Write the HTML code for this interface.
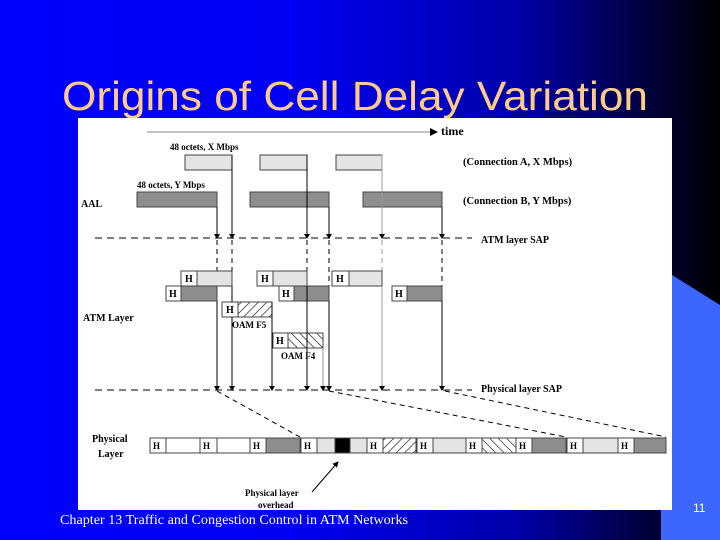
<!DOCTYPE html>
<html><head><meta charset="utf-8"><style>
body{margin:0;width:720px;height:540px;overflow:hidden;background:linear-gradient(90deg,#0000ff 0%,#0000f4 40%,#0000a8 72%,#000000 100%);position:relative;font-family:"Liberation Sans",sans-serif}
svg{position:absolute;left:0;top:0}
</style></head><body>
<svg width="720" height="540">
<defs>
<pattern id="hf" width="6" height="6" patternUnits="userSpaceOnUse" patternTransform="rotate(45)"><rect width="6" height="6" fill="#fff"/><line x1="0" y1="0" x2="0" y2="6" stroke="#000" stroke-width="1.2"/></pattern>
<pattern id="hb" width="6" height="6" patternUnits="userSpaceOnUse" patternTransform="rotate(-45)"><rect width="6" height="6" fill="#fff"/><line x1="0" y1="0" x2="0" y2="6" stroke="#000" stroke-width="1.2"/></pattern>
<marker id="ar" markerWidth="6" markerHeight="6" refX="5" refY="3" orient="auto"><path d="M0,0 L6,3 L0,6z" fill="#000"/></marker>
</defs>
<polygon points="672,275 720,305 720,540 661,540 661,510 672,510" fill="#3d66ff"/>
<text x="62" y="110" font-size="41" fill="#ffcc88" textLength="586" lengthAdjust="spacingAndGlyphs" font-family="Liberation Sans, sans-serif">Origins of Cell Delay Variation</text>
<rect x="78" y="118" width="594" height="392" fill="#fff"/>
<g font-family="Liberation Serif, serif" font-weight="bold" font-size="10" fill="#000">
<line x1="147" y1="132" x2="434" y2="132" stroke="#888" stroke-width="1"/>
<path d="M430,128 L438,132 L430,136z" fill="#000"/>
<text x="441" y="135" font-size="12">time</text>
<text x="170" y="150" font-size="9">48 octets, X Mbps</text>
<text x="137" y="188" font-size="9">48 octets, Y Mbps</text>
<text x="81" y="207" font-size="10">AAL</text>
<text x="463" y="165" font-size="10.5">(Connection A, X Mbps)</text>
<text x="463" y="204" font-size="10.5">(Connection B, Y Mbps)</text>
<g stroke="#444" stroke-width="1">
<rect x="185" y="155" width="47" height="15" fill="#e4e4e4"/>
<rect x="260" y="155" width="47" height="15" fill="#e4e4e4"/>
<rect x="336" y="155" width="46" height="15" fill="#e4e4e4"/>
<rect x="137" y="192" width="80" height="15" fill="#8e8e8e"/>
<rect x="250" y="192" width="79" height="15" fill="#8e8e8e"/>
<rect x="363" y="192" width="79" height="15" fill="#8e8e8e"/>
</g>
<g stroke="#000" stroke-width="1" fill="none">
<line x1="232" y1="155" x2="232" y2="238"/>
<line x1="307" y1="155" x2="307" y2="238"/>
<line x1="382" y1="155" x2="382" y2="238" stroke="#999"/>
<line x1="217" y1="207" x2="217" y2="238"/>
<line x1="329" y1="207" x2="329" y2="238"/>
<line x1="442" y1="207" x2="442" y2="238"/>
<line x1="95" y1="238" x2="472" y2="238" stroke-dasharray="7,5"/>
<g stroke-dasharray="5,4">
<line x1="217" y1="240" x2="217" y2="286"/><line x1="232" y1="240" x2="232" y2="271"/>
<line x1="307" y1="240" x2="307" y2="271"/><line x1="329" y1="240" x2="329" y2="286"/>
<line x1="382" y1="240" x2="382" y2="271" stroke="#999"/><line x1="442" y1="240" x2="442" y2="286"/>
</g>
</g>
<g fill="#000">
<path d="M214,234 L220,234 L217,239z"/><path d="M229,234 L235,234 L232,239z"/><path d="M304,234 L310,234 L307,239z"/>
<path d="M326,234 L332,234 L329,239z"/><path d="M379,234 L385,234 L382,239z"/><path d="M439,234 L445,234 L442,239z"/>
</g>
<text x="481" y="243">ATM layer SAP</text>
<g stroke="#444" stroke-width="1">
<rect x="197" y="271" width="35" height="15" fill="#e4e4e4"/><rect x="181" y="271" width="16" height="15" fill="#fff"/>
<rect x="273" y="271" width="34" height="15" fill="#e4e4e4"/><rect x="257" y="271" width="16" height="15" fill="#fff"/>
<rect x="349" y="271" width="33" height="15" fill="#e4e4e4"/><rect x="332" y="271" width="17" height="15" fill="#fff"/>
<rect x="181" y="286" width="36" height="15" fill="#8e8e8e"/><rect x="166" y="286" width="15" height="15" fill="#fff"/>
<rect x="294" y="286" width="35" height="15" fill="#8e8e8e"/><rect x="279" y="286" width="15" height="15" fill="#fff"/>
<rect x="407" y="286" width="35" height="15" fill="#8e8e8e"/><rect x="392" y="286" width="15" height="15" fill="#fff"/>
<rect x="238" y="302" width="34" height="15" fill="url(#hf)"/><rect x="222" y="302" width="16" height="15" fill="#fff"/>
<rect x="288" y="333" width="19" height="15" fill="url(#hb)"/><rect x="307" y="333" width="16" height="15" fill="url(#hb)"/><rect x="273" y="333" width="15" height="15" fill="#fff"/>
</g>
<text x="185" y="282">H</text><text x="261" y="282">H</text><text x="336" y="282">H</text>
<text x="169" y="297">H</text><text x="282" y="297">H</text><text x="395" y="297">H</text>
<text x="226" y="313">H</text><text x="276" y="344">H</text>
<text x="232" y="328" font-size="9">OAM F5</text>
<text x="281" y="359" font-size="9">OAM F4</text>
<text x="83" y="321">ATM Layer</text>
<g stroke="#000" stroke-width="1">
<line x1="217" y1="301" x2="217" y2="390"/><line x1="232" y1="286" x2="232" y2="302"/><line x1="232" y1="317" x2="232" y2="390"/>
<line x1="272" y1="302" x2="272" y2="390"/><line x1="307" y1="286" x2="307" y2="390"/>
<line x1="323" y1="348" x2="323" y2="390" stroke="#999"/><line x1="329" y1="301" x2="329" y2="390"/>
<line x1="382" y1="286" x2="382" y2="390" stroke="#999"/><line x1="442" y1="301" x2="442" y2="390"/>
<line x1="95" y1="390" x2="472" y2="390" stroke-dasharray="7,5"/>
<line x1="217" y1="391" x2="300" y2="437" stroke-dasharray="5,4"/>
<line x1="329" y1="391" x2="566" y2="437" stroke-dasharray="5,4"/>
<line x1="445" y1="391" x2="666" y2="437" stroke-dasharray="5,4"/>
<line x1="312" y1="492" x2="338" y2="462" marker-end="url(#ar)"/>
</g>
<g fill="#000">
<path d="M214,386 L220,386 L217,391z"/><path d="M229,386 L235,386 L232,391z"/><path d="M269,386 L275,386 L272,391z"/>
<path d="M304,386 L310,386 L307,391z"/><path d="M320,386 L326,386 L323,391z"/><path d="M326,386 L332,386 L329,391z"/>
<path d="M379,386 L385,386 L382,391z"/><path d="M439,386 L445,386 L442,391z"/>
</g>
<text x="481" y="392">Physical layer SAP</text>
<text x="92" y="442">Physical</text><text x="98" y="457">Layer</text>
<g stroke="#444" stroke-width="1">
<rect x="150" y="438" width="516" height="15" fill="#fff"/>
<rect x="266" y="438" width="34" height="15" fill="#8e8e8e"/>
<rect x="317" y="438" width="50" height="15" fill="#e4e4e4"/>
<rect x="335" y="438" width="15" height="15" fill="#000"/>
<rect x="383" y="438" width="33" height="15" fill="url(#hf)"/>
<rect x="433" y="438" width="33" height="15" fill="#e4e4e4"/>
<rect x="482" y="438" width="34" height="15" fill="url(#hb)"/>
<rect x="532" y="438" width="34" height="15" fill="#8e8e8e"/>
<rect x="583" y="438" width="35" height="15" fill="#e4e4e4"/>
<rect x="634" y="438" width="32" height="15" fill="#8e8e8e"/>
<rect x="150" y="438" width="16" height="15" fill="#fff"/><rect x="200" y="438" width="17" height="15" fill="#fff"/>
<rect x="250" y="438" width="16" height="15" fill="#fff"/><rect x="301" y="438" width="16" height="15" fill="#fff"/>
<rect x="367" y="438" width="16" height="15" fill="#fff"/><rect x="417" y="438" width="16" height="15" fill="#fff"/>
<rect x="466" y="438" width="16" height="15" fill="#fff"/><rect x="516" y="438" width="16" height="15" fill="#fff"/>
<rect x="567" y="438" width="16" height="15" fill="#fff"/><rect x="618" y="438" width="16" height="15" fill="#fff"/>
</g>
<g font-size="9">
<text x="153" y="449">H</text><text x="203" y="449">H</text><text x="253" y="449">H</text><text x="304" y="449">H</text>
<text x="370" y="449">H</text><text x="420" y="449">H</text><text x="469" y="449">H</text><text x="519" y="449">H</text>
<text x="570" y="449">H</text><text x="621" y="449">H</text>
</g>
<text x="245" y="496" font-size="9">Physical layer</text>
<text x="258" y="508" font-size="9">overhead</text>
</g>
<text x="60" y="524" font-size="13.5" fill="#fff" font-family="Liberation Serif, serif" textLength="348" lengthAdjust="spacingAndGlyphs">Chapter 13 Traffic and Congestion Control in ATM Networks</text>
<text x="693" y="512" font-size="12" fill="#fff">11</text>
</svg>
</body></html>
